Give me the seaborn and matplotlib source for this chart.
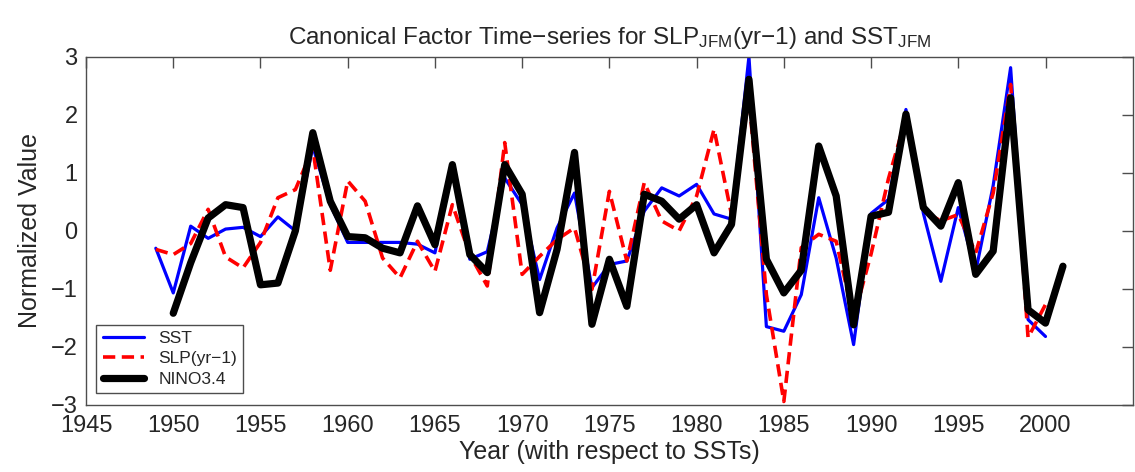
import matplotlib
matplotlib.use("Agg")
import matplotlib.pyplot as plt
import seaborn as sns
import pandas as pd

# values
sst_years = list(range(1949, 2001))
sst = [-0.30, -1.07, 0.08, -0.13, 0.03, 0.06, -0.10, 0.24, 0.00, 1.45,
       0.45, -0.20, -0.20, -0.20, -0.20, -0.23, -0.38, 1.10, -0.49, -0.36,
       0.91, 0.45, -0.84, 0.05, 0.65, -0.98, -0.58, -0.52, 0.34, 0.74,
       0.60, 0.80, 0.29, 0.20, 3.00, -1.65, -1.73, -1.10, 0.57, -0.47,
       -1.96, 0.30, 0.54, 2.09, 0.30, -0.87, 0.40, -0.70, 0.78, 2.81,
       -1.53, -1.82]

slp_years = list(range(1949, 2001))
slp = [-0.32, -0.41, -0.22, 0.37, -0.45, -0.64, -0.20, 0.57, 0.71, 1.42,
       -0.68, 0.86, 0.51, -0.47, -0.81, -0.18, -0.70, 0.45, -0.41, -0.95,
       1.52, -0.75, -0.44, -0.15, 0.05, -1.01, 0.68, -0.52, 0.83, 0.17,
       0.00, 0.60, 1.75, 0.28, 2.30, -1.10, -2.94, -0.29, -0.06, -0.18,
       -1.50, -0.40, 0.90, 1.95, 0.34, 0.17, 0.28, -0.38, 0.65, 2.52,
       -1.84, -1.27]

nino_years = list(range(1950, 2002))
nino = [-1.42, -0.55, 0.22, 0.45, 0.40, -0.93, -0.90, 0.00, 1.69, 0.51,
        -0.10, -0.12, -0.30, -0.38, 0.43, -0.24, 1.14, -0.41, -0.72, 1.14,
        0.63, -1.41, -0.32, 1.35, -1.61, -0.49, -1.30, 0.63, 0.51, 0.20,
        0.45, -0.38, 0.11, 2.61, -0.49, -1.07, -0.68, 1.46, 0.60, -1.62,
        0.25, 0.32, 2.01, 0.40, 0.08, 0.83, -0.75, -0.35, 2.29, -1.36,
        -1.59, -0.61]

labels = ["SST", "SLP(yr\u22121)", "NINO3.4"]
xticks = list(range(1945, 2001, 5))
yticks = list(range(-3, 4))


def main():
    sns.set_style("white")
    plt.rcParams["font.family"] = ["Liberation Sans", "DejaVu Sans"]
    plt.rcParams["mathtext.fontset"] = "custom"
    plt.rcParams["mathtext.rm"] = "Liberation Sans"
    plt.rcParams["mathtext.it"] = "Liberation Sans"

    df_sst = pd.DataFrame({"Year": sst_years, "Value": sst})
    df_slp = pd.DataFrame({"Year": slp_years, "Value": slp})
    df_nino = pd.DataFrame({"Year": nino_years, "Value": nino})

    fig = plt.figure(figsize=(11.35, 4.72), dpi=100)
    ax = fig.add_axes([0.0758, 0.142, 0.9222, 0.738])

    sns.lineplot(x="Year", y="Value", data=df_sst, ax=ax, color="#0000ff",
                 linewidth=2.3, label=labels[0])
    sns.lineplot(x="Year", y="Value", data=df_slp, ax=ax, color="#ff0000",
                 linewidth=2.6, linestyle=(0, (3.4, 1.8)), label=labels[1])
    sns.lineplot(x="Year", y="Value", data=df_nino, ax=ax, color="black",
                 linewidth=5.2, label=labels[2])

    ax.set_xlim(1945, 2005)
    ax.set_ylim(-3, 3)
    ax.set_xticks(xticks)
    ax.set_yticks(yticks)
    ax.tick_params(axis="both", which="major", direction="in", length=7.7,
                   width=1, color="0.3", labelsize=17, pad=6,
                   top=True, right=True)
    ax.tick_params(axis="x", pad=7.5)
    for sp in ax.spines.values():
        sp.set_visible(True)
        sp.set_color("0.3")
        sp.set_linewidth(1)

    ax.set_xlabel("Year (with respect to SSTs)", fontsize=18, labelpad=2)
    ax.set_ylabel("Normalized Value", fontsize=18, labelpad=6)
    ax.set_title(r"Canonical Factor Time$-$series for SLP$_{\mathrm{JFM}}$(yr$-$1) and SST$_{\mathrm{JFM}}$",
                 fontsize=17.5, pad=9)

    leg = ax.legend(loc="lower left", bbox_to_anchor=(0.010, 0.035),
                    borderaxespad=0, fontsize=12.5, fancybox=False,
                    framealpha=1, edgecolor="0.3", handlelength=2.4,
                    labelspacing=0.3, borderpad=0.35, handletextpad=0.8)
    leg.get_frame().set_linewidth(1)

    fig.savefig("out.png", dpi=100)


if __name__ == "__main__":
    main()
